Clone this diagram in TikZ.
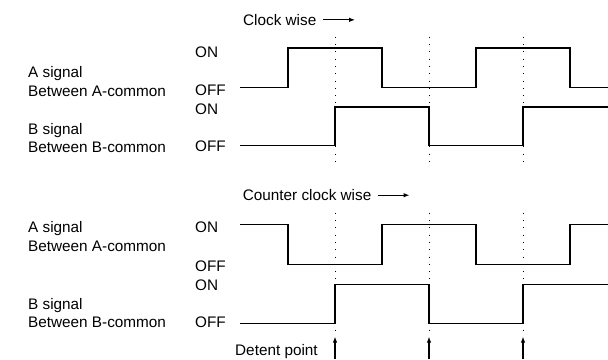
\documentclass[tikz,border=0pt]{standalone}
\usepackage{fontspec}
\setmainfont{Liberation Sans}
\usetikzlibrary{positioning, arrows.meta}

\begin{document}
\begin{tikzpicture}[
x=1pt, y=-1pt,
lbl/.style={anchor=base west,
  inner sep=0pt,
  font=\fontsize{15.3}{18}\selectfont
},
wave/.style={line width=1.4pt, line join=miter},
guide/.style={line width=0.9pt, dash pattern=on 0.9pt off 6.4pt},
pointer/.style={->, line width=1.1pt},
>={Latex[length=6pt,width=4.6pt]}
]
\useasboundingbox (0,0) rectangle (608,359);

% clockwise
\node[lbl] (cw) at (243,25.3)
    {Clock wise};
\coordinate[right=6.5pt of cw] (cwtail);
\coordinate[right=32pt of cwtail] (cwhead);
\draw[pointer] (cwtail) -- (cwhead);

\node[lbl] (cwAsig) at (28,77.3)
    {A signal};
\node[lbl] (cwAcom) at (28,96.3)
    {Between A-common};
\node[lbl] (cwBsig) at (28,134.7)
    {B signal};
\node[lbl] (cwBcom) at (28,152.6)
    {Between B-common};

\node[lbl] (cwAon) at (195,57.3)
    {ON};
\node[lbl] (cwAoff) at (195,95)
    {OFF};
\node[lbl] (cwBon) at (195,114)
    {ON};
\node[lbl] (cwBoff) at (195,151.7)
    {OFF};

\draw[guide] (335,36.7) -- (335,168);
\draw[guide] (429,36.7) -- (429,168);
\draw[guide] (523,36.7) -- (523,168);

\draw[wave] (240,87.5) -| (288,48) -| (382,87.5) -| (476,48) -| (570,87.5) -- (608,87.5);
\draw[wave] (240,145.7) -| (335,107) -| (429,145.7) -| (523,107) -- (608,107);

% counter clockwise
\node[lbl] (ccw) at (242.7,200.7)
    {Counter clock wise};
\coordinate[right=6pt of ccw] (ccwtail);
\coordinate[right=32pt of ccwtail] (ccwhead);
\draw[pointer] (ccwtail) -- (ccwhead);

\node[lbl] (ccwAsig) at (28,232.3)
    {A signal};
\node[lbl] (ccwAcom) at (28,251.7)
    {Between A-common};
\node[lbl] (ccwBsig) at (28,309)
    {B signal};
\node[lbl] (ccwBcom) at (28,327.7)
    {Between B-common};

\node[lbl] (ccwAon) at (195,232.3)
    {ON};
\node[lbl] (ccwAoff) at (195,271)
    {OFF};
\node[lbl] (ccwBon) at (195,290.7)
    {ON};
\node[lbl] (ccwBoff) at (195,327.7)
    {OFF};

\draw[guide] (335,212.7) -- (335,333);
\draw[guide] (429,212.7) -- (429,333);
\draw[guide] (523,212.7) -- (523,333);

\draw[wave] (240,224.3) -| (288,264.3) -| (382,224.3) -| (476,264.3) -| (570,224.3) -- (608,224.3);
\draw[wave] (240,323.3) -| (335,284.3) -| (429,323.3) -| (523,284.3) -- (608,284.3);

% detent points
\node[lbl] (detent) at (235,355)
    {Detent point};
\coordinate (d1foot) at (335,359);
\coordinate (d1tip) at (335,336.7);
\coordinate (d2foot) at (429,359);
\coordinate (d2tip) at (429,336.7);
\coordinate (d3foot) at (523,359);
\coordinate (d3tip) at (523,336.7);
\draw[pointer] (d1foot) -- (d1tip);
\draw[pointer] (d2foot) -- (d2tip);
\draw[pointer] (d3foot) -- (d3tip);
\end{tikzpicture}
\end{document}
